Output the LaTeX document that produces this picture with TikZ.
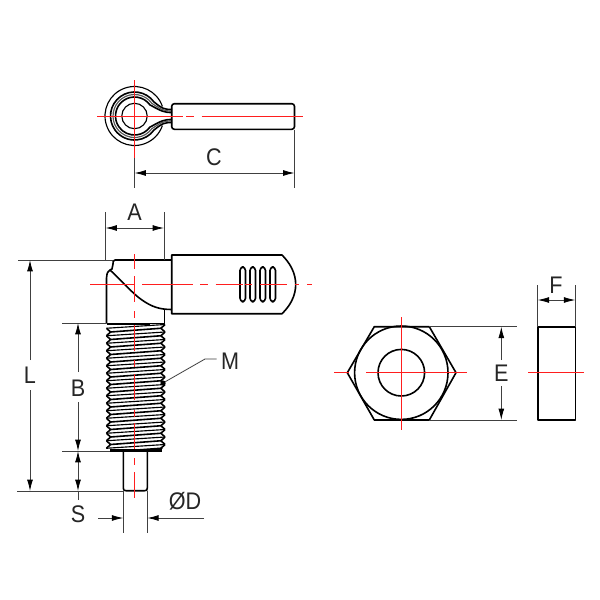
\documentclass[tikz,border=0pt]{standalone}
\usepackage{fontspec}
\setmainfont[FakeStretch=0.9]{Liberation Sans}
\usetikzlibrary{arrows.meta,calc}
\definecolor{cl}{RGB}{255,30,30}
\tikzset{
  x=0.75pt,y=-0.75pt,
  part/.style={draw=black,line width=1.2pt,line join=round},
  fine/.style={draw=black,line width=0.85pt,line join=round},
  band/.style={draw=black!65,line width=0.9pt,line join=round},
  ext/.style={draw=black!75,line width=0.6pt},
  dim/.style={draw=black!75,line width=0.6pt,{Latex[length=8.5pt,width=4.4pt,black]}-{Latex[length=8.5pt,width=4.4pt,black]}},
  tipto/.style={draw=black!75,line width=0.6pt,-{Latex[length=8.5pt,width=4.4pt,black]}},
  axis/.style={draw=cl,line width=0.7pt},
  lab/.style={font=\fontsize{18}{18}\selectfont,text=black!85,inner sep=0pt},
}
\begin{document}
\begin{tikzpicture}
\useasboundingbox (0,0) rectangle (600,600);
\fill[white] (0,0) rectangle (600,600);
\coordinate (tc) at (134.5,116);
\coordinate (hc) at (401.3,372.7);
% ---------- top view
\draw[fine] (tc) ++(-19:29.5) arc[start angle=-19,end angle=-341,radius=29.5];
\draw[fine] (tc) circle (12.7);
\foreach \r/\d/\s in {24/6.5/part,21.5/5/band,19/3.5/part}{
  \draw[\s] (172,116-\d) .. controls (164,116-\d) and (162,116-\d-1) ..
     ($(tc)+(-36:\r)$) arc[start angle=-36,end angle=-324,radius=\r]
     .. controls (162,116+\d+1) and (164,116+\d) .. (172,116+\d);
}
\draw[part,rounded corners=2pt] (171.7,103.7) rectangle (294.5,129.3);
% ---------- side view: handle and head
\draw[part] (282,255) .. controls (290,263) and (295.7,273) .. (295.7,284.5)
   .. controls (295.7,296) and (290,306) .. (282,313.7) -- (171.7,313.7) -- (171.7,255) -- cycle;
\foreach \x in {240,250,260,270}
  \draw[part,rounded corners=2.6pt] (\x,267) rectangle (\x+5.5,301.7);
\draw[part] (171.7,260) -- (115,260) .. controls (113,260) and (113,262) .. (113,264) -- (112,269)
  -- (110,270) .. controls (107,272) and (106.5,275) .. (106.5,278) -- (106.5,323.5);
\draw[part] (110,270) .. controls (122,281) and (133,294) .. (142,300) .. controls (152,307) and (160,309.5) .. (171.7,309.5);
\draw[part] (164.5,309.5) -- (164.5,325);
\draw[line width=2.2pt] (107,324) -- (150,324);
\draw[part] (150,323.4) -- (164.5,323.4);
% ---------- thread
\foreach \k in {0,...,16}{
  \pgfmathsetmacro{\ya}{324.5+7.5*\k}
  \pgfmathsetmacro{\yb}{\ya+3.75}
  \pgfmathsetmacro{\yc}{\ya+7.5}
  \pgfmathsetmacro{\yd}{\ya+11.25}
  \draw[part] (106.5,\yb) -- (110.5,\yc) -- (106.5,\yd);
  \draw[part] (165,\ya) -- (161,\yb) -- (165,\yc);
  \draw[fine] (106.5,\yb) -- (165,\ya);
  \draw[part] (110.5,\yc) -- (161,\yb);
}
\fill[white] (105,449) rectangle (170,462);
\draw[line width=2.2pt] (110,450.5) -- (161.5,450.5);
% ---------- pin
\draw[part] (123.3,451) -- (123.3,488) .. controls (123.3,490) and (124,490.7) .. (126,490.7)
  -- (144.7,490.7) .. controls (146.7,490.7) and (147.3,490) .. (147.3,488) -- (147.3,451);
% ---------- nut
\draw[part] (374.3,326.7) -- (429.3,326.7) -- (456,372.7) -- (429.3,420) -- (374.3,420) -- (347.3,372.7) -- cycle;
\draw[part] (hc) circle (46.7);
\draw[part] (hc) circle (23.3);
\draw[part] (537.7,326.7) rectangle (575.3,420);
\draw[fine] (541,372.7) -- (573,372.7);
% ---------- extension lines
\draw[ext] (134.5,158) -- (134.5,188);
\draw[ext] (294.5,130) -- (294.5,188);
\draw[ext] (105.5,212) -- (105.5,260);
\draw[ext] (164,212) -- (164,260);
\draw[ext] (18,260) -- (113,260);
\draw[ext] (62,323) -- (106,323);
\draw[ext] (62,451) -- (110,451);
\draw[ext] (17,491) -- (123.3,491);
\draw[ext] (123.3,491) -- (123.3,533);
\draw[ext] (147.3,491) -- (147.3,533);
\draw[ext] (429.3,326.7) -- (516.7,326.7);
\draw[ext] (429.3,420) -- (516.7,420);
\draw[ext] (537.7,285) -- (537.7,326.7);
\draw[ext] (575.3,285) -- (575.3,326.7);
% ---------- dimension lines
\coordinate (cA) at (134.5,173); \coordinate (cB) at (294.5,173);
\draw[dim] (cA) -- (cB);
\coordinate (aA) at (105.5,228); \coordinate (aB) at (164,228);
\draw[dim] (aA) -- (aB);
\coordinate (lA) at (30,260); \coordinate (lB) at (30,491);
\coordinate (bA) at (78,323); \coordinate (bB) at (78,451);
\coordinate (sB) at (78,491);
\coordinate (eA) at (501.3,326.7); \coordinate (eB) at (501.3,420);
\coordinate (fA) at (537.7,300); \coordinate (fB) at (575.3,300);
\draw[dim] (fA) -- (fB);
\coordinate (dL) at (98,518); \coordinate (dR) at (204,518);
\coordinate (dA) at (123.3,518); \coordinate (dB) at (147.3,518);
\draw[tipto] (dL) -- (dA);
\draw[tipto] (dR) -- (dB);
\draw[tipto] (30,360) -- (lA);
\draw[tipto] (30,390) -- (lB);
\draw[tipto] (78,372) -- (bA);
\draw[tipto] (78,402) -- (bB);
\draw[dim] (78,451) -- (sB);
\draw[ext] (78,491) -- (78,500);
\draw[tipto] (501.3,360) -- (eA);
\draw[tipto] (501.3,386) -- (eB);
% leader
\coordinate (mA) at (216.7,359); \coordinate (mB) at (205,359); \coordinate (mC) at (163,383);
\draw[ext] (mA) -- (mB) -- (mC);
\fill (mC) circle (2.6);
% ---------- centre lines
\draw[axis] (134.5,80) -- (134.5,158);
\foreach \a/\b in {97/183,186/194,201.7/303} \draw[axis] (\a,116) -- (\b,116);
\foreach \a/\b in {90/135,142/193,200/208,215.7/243,245/252,260/286.7,295/299,307/312} \draw[axis] (\a,284.5) -- (\b,284.5);
\foreach \a/\b in {254/269,276/302,311/318,325/351,360/367,374/400,410/417,423/449,458/465,472/498}
  \draw[axis] (134.5,\a) -- (134.5,\b);
\foreach \a/\b in {334/349,366/467} \draw[axis] (\a,372.7) -- (\b,372.7);
\draw[axis] (401.3,317) -- (401.3,430);
\draw[axis] (528,372.7) -- (584,372.7);
% ---------- labels
\node[lab] (tC) at (214,157) {C};
\node[lab] (tA) at (134.5,212) {A};
\node[lab] (tL) at (30,375) {L};
\node[lab] (tB) at (78,388) {B};
\node[lab] (tS) at (78,514) {S};
\node[lab] (tD) at (185,501) {ØD};
\node[lab] (tM) at (230,361) {M};
\node[lab] (tE) at (501.3,373) {E};
\node[lab] (tF) at (556,285) {F};
\end{tikzpicture}
\end{document}
